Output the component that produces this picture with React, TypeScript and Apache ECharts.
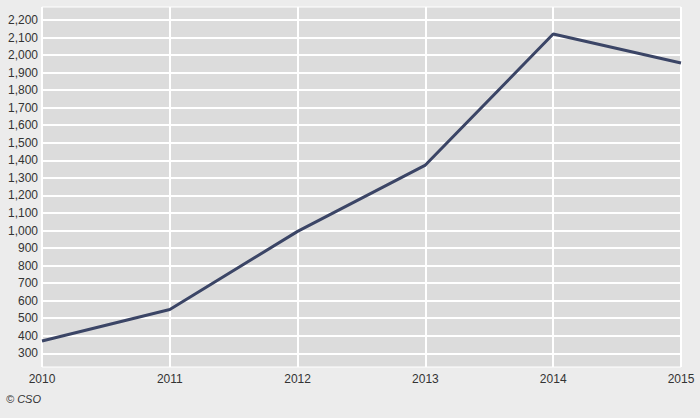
import React, { useEffect, useRef } from "react";
import * as echarts from "echarts";

const years = ["2010", "2011", "2012", "2013", "2014", "2015"];
const values = [370, 550, 995, 1373, 2120, 1955];
const yTicks = [300, 400, 500, 600, 700, 800, 900, 1000, 1100, 1200, 1300, 1400, 1500, 1600, 1700, 1800, 1900, 2000, 2100, 2200];

export default function App() {
  const ref = useRef<HTMLDivElement>(null);
  useEffect(() => {
    if (!ref.current) return;
    const chart = echarts.init(ref.current, null, { renderer: "svg" });
    chart.setOption({
      animation: false,
      backgroundColor: "#ececec",
      textStyle: { fontFamily: "Liberation Sans, Arial, sans-serif" },
      grid: {
        left: 42,
        right: 19,
        top: 7,
        bottom: 51,
        show: true,
        backgroundColor: "#dcdcdc",
        borderColor: "#ffffff",
        borderWidth: 1,
      },
      xAxis: {
        type: "category",
        data: years,
        boundaryGap: false,
        axisLine: { show: false },
        axisTick: { show: false },
        axisLabel: { color: "#333", fontSize: 12, margin: 6 },
        splitLine: { show: true, lineStyle: { color: "#ffffff", width: 2 } },
      },
      yAxis: {
        type: "value",
        min: 222,
        max: 2274,
        axisLine: { show: false },
        axisTick: { show: false, customValues: yTicks },
        axisLabel: {
          color: "#333",
          fontSize: 12,
          margin: 4,
          customValues: yTicks,
          formatter: (v: number) => v.toLocaleString("en-US"),
        },
        splitLine: { show: true, lineStyle: { color: "#ffffff", width: 2 } },
      },
      series: [
        {
          type: "line",
          data: values,
          symbol: "none",
          lineStyle: { color: "#3b4566", width: 3 },
        },
      ],
      graphic: [
        {
          type: "text",
          left: 6,
          top: 393,
          style: {
            text: "© CSO",
            fill: "#333",
            font: "italic 11px Liberation Sans, Arial, sans-serif",
          },
        },
      ],
    });
    return () => chart.dispose();
  }, []);
  return <div ref={ref} style={{ width: 700, height: 418, position: "absolute", left: 0, top: 0 }} />;
}
